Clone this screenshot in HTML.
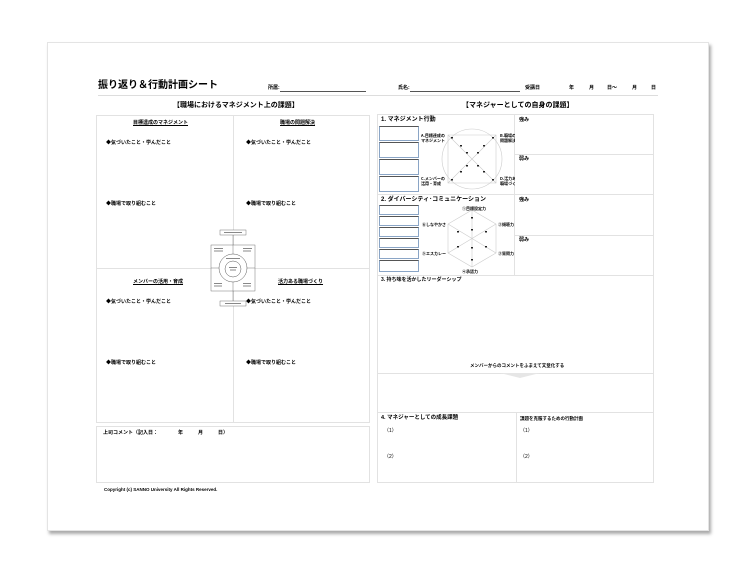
<!DOCTYPE html>
<html><head><meta charset="utf-8"><style>
*{margin:0;padding:0;box-sizing:border-box}
body{width:748px;height:574px;background:#fff;position:relative;overflow:hidden;font-family:"Liberation Sans","Noto Sans CJK JP",sans-serif;color:#000}
.page{position:absolute;left:47px;top:42px;width:662px;height:489px;background:#fff;border:1px solid #e4e4e4;box-shadow:2px 3px 3px #aaa}
.t{position:absolute;white-space:nowrap;font-size:5px;line-height:1;font-weight:bold}
.ul{text-decoration:underline}
.box{position:absolute;border:1px solid #e2e2e2}
.hl{position:absolute;height:1px;background:#e2e2e2}
.vl{position:absolute;width:1px;background:#e2e2e2}
.lb{position:absolute;left:379px;width:40px;height:18px;border:1px solid #8aa5c6;border-top:1px solid #555}
</style></head><body>
<div class="page"></div>
<div class="t" style="left:98px;top:81px;font-size:10px">振り返り＆行動計画シート</div>
<div class="hl" style="left:98px;top:95px;width:560px;background:#ddd"></div>
<div class="t" style="left:268px;top:86px">所属:</div>
<div class="hl" style="left:280px;top:91px;width:86px;background:#555"></div>
<div class="t" style="left:398px;top:86px">氏名:</div>
<div class="hl" style="left:410px;top:91px;width:110px;background:#555"></div>
<div class="t" style="left:525px;top:86px">受講日</div>
<div class="t" style="left:569px;top:86px">年</div>
<div class="t" style="left:589px;top:86px">月</div>
<div class="t" style="left:607px;top:86px">日～</div>
<div class="t" style="left:632px;top:86px">月</div>
<div class="t" style="left:651px;top:86px">日</div>

<div class="t" style="left:173px;top:102px;font-size:7px">【職場におけるマネジメント上の課題】</div>
<div class="box" style="left:96px;top:115px;width:274px;height:308px"></div>
<div class="vl" style="left:233px;top:115px;height:308px"></div>
<div class="hl" style="left:96px;top:268px;width:274px"></div>
<div class="t ul" style="left:133px;top:121px">目標達成のマネジメント</div>
<div class="t ul" style="left:280px;top:121px">職場の問題解決</div>
<div class="t ul" style="left:133px;top:280px">メンバーの活用・育成</div>
<div class="t ul" style="left:278px;top:280px">活力ある職場づくり</div>
<div class="t" style="left:106px;top:141px">◆気づいたこと・学んだこと</div>
<div class="t" style="left:246px;top:141px">◆気づいたこと・学んだこと</div>
<div class="t" style="left:106px;top:202px">◆職場で取り組むこと</div>
<div class="t" style="left:246px;top:202px">◆職場で取り組むこと</div>
<div class="t" style="left:106px;top:300px">◆気づいたこと・学んだこと</div>
<div class="t" style="left:246px;top:300px">◆気づいたこと・学んだこと</div>
<div class="t" style="left:106px;top:361px">◆職場で取り組むこと</div>
<div class="t" style="left:246px;top:361px">◆職場で取り組むこと</div>
<svg style="position:absolute;left:205px;top:228px" width="56" height="80" viewBox="0 0 56 80">
<rect x="15" y="2" width="26" height="5" fill="#fff" stroke="#555" stroke-width=".4"/>
<rect x="15" y="73" width="26" height="5" fill="#fff" stroke="#555" stroke-width=".4"/>
<line x1="28" y1="7" x2="28" y2="17" stroke="#555" stroke-width=".4"/>
<line x1="28" y1="63" x2="28" y2="73" stroke="#555" stroke-width=".4"/>
<rect x="6" y="17" width="44" height="46" fill="#fff" stroke="#555" stroke-width=".4"/>
<line x1="6" y1="40" x2="50" y2="40" stroke="#555" stroke-width=".4"/>
<line x1="28" y1="17" x2="28" y2="63" stroke="#555" stroke-width=".4"/>
<circle cx="28" cy="40" r="14" fill="#fff" stroke="#555" stroke-width=".5"/>
<circle cx="28" cy="41" r="8" fill="#fff" stroke="#555" stroke-width=".5"/>
<g fill="#888"><rect x="9" y="20" width="9" height="1"/><rect x="9" y="22.5" width="9" height="1"/><rect x="38" y="20" width="9" height="1"/><rect x="38" y="22.5" width="8" height="1"/>
<rect x="9" y="55" width="8" height="1"/><rect x="9" y="57.5" width="8" height="1"/><rect x="38" y="55" width="8" height="1"/><rect x="38" y="57.5" width="8" height="1"/>
<rect x="21" y="30" width="14" height="1"/><rect x="24" y="39" width="8" height="1"/><rect x="25" y="41.5" width="6" height="1"/>
<rect x="19" y="4" width="18" height="1"/><rect x="20" y="75" width="16" height="1"/></g>
</svg>

<div class="box" style="left:96px;top:426px;width:274px;height:57px"></div>
<div class="t" style="left:103px;top:431px">上司コメント（記入日：　　　　年　　　月　　　日）</div>
<div class="t" style="left:104px;top:488px;font-size:4.5px">Copyright (c) SANNO University All Rights Reserved.</div>

<div class="t" style="left:462px;top:102px;font-size:7px">【マネジャーとしての自身の課題】</div>
<div class="box" style="left:377px;top:114px;width:277px;height:369px"></div>
<div class="vl" style="left:514px;top:114px;height:161px"></div>
<div class="hl" style="left:377px;top:194px;width:277px"></div>
<div class="hl" style="left:377px;top:275px;width:277px"></div>
<div class="hl" style="left:514px;top:154px;width:140px"></div>
<div class="hl" style="left:514px;top:235px;width:140px"></div>
<div class="hl" style="left:377px;top:373px;width:277px"></div>
<div class="hl" style="left:377px;top:412px;width:277px"></div>
<div class="vl" style="left:516px;top:412px;height:71px"></div>
<div class="t" style="left:381px;top:117px;font-size:6px">1. マネジメント行動</div>
<div class="t" style="left:519px;top:118px">強み</div>
<div class="t" style="left:519px;top:157px">弱み</div>
<div class="t" style="left:519px;top:198px">強み</div>
<div class="t" style="left:519px;top:238px">弱み</div>
<div class="lb" style="top:126px;height:15px"></div><div class="lb" style="top:142px;height:16px"></div>
<div class="lb" style="top:159px;height:16px"></div><div class="lb" style="top:176px;height:16px"></div>
<svg style="position:absolute;left:420px;top:125px" width="95" height="68" viewBox="0 0 95 68">
<circle cx="52" cy="34" r="30" fill="none" stroke="#ccc" stroke-width=".6"/>
<polygon points="28,10 76,10 76,58 28,58" fill="none" stroke="#ccc" stroke-width=".6"/>
<line x1="28" y1="10" x2="76" y2="58" stroke="#ccc" stroke-width=".6"/><line x1="76" y1="10" x2="28" y2="58" stroke="#ccc" stroke-width=".6"/>
<g fill="#222"><rect x="31" y="12" width="2" height="1.5"/><rect x="72" y="12" width="2" height="1.5"/><rect x="31" y="54" width="2" height="1.5"/><rect x="72" y="54" width="2" height="1.5"/>
<rect x="40" y="20" width="2" height="1.5"/><rect x="63" y="20" width="2" height="1.5"/><rect x="40" y="46" width="2" height="1.5"/><rect x="63" y="46" width="2" height="1.5"/>
<rect x="46" y="27" width="2" height="1.5"/><rect x="57" y="27" width="2" height="1.5"/><rect x="46" y="40" width="2" height="1.5"/><rect x="57" y="40" width="2" height="1.5"/></g>
<g font-size="4" font-weight="bold" font-family="Noto Sans CJK JP">
<text x="1" y="12">A.目標達成の</text><text x="1" y="17">マネジメント</text>
<text x="1" y="55">C.メンバーの</text><text x="1" y="60">活用・育成</text>
<text x="80" y="12">B.職場の</text><text x="80" y="17">問題解決</text>
<text x="80" y="55">D.活力ある</text><text x="80" y="60">職場づくり</text></g>
</svg>
<div class="t" style="left:381px;top:197px;font-size:6px">2. ダイバーシティ･コミュニケーション</div>
<div class="lb" style="top:205px;height:10px"></div><div class="lb" style="top:216px;height:10px"></div>
<div class="lb" style="top:227px;height:10px"></div><div class="lb" style="top:238px;height:10px"></div>
<div class="lb" style="top:249px;height:10px"></div><div class="lb" style="top:260px;height:12px"></div>
<svg style="position:absolute;left:420px;top:203px" width="95" height="72" viewBox="0 0 95 72">
<polygon points="52,7 76,21 76,50 52,64 28,50 28,21" fill="none" stroke="#ccc" stroke-width=".6"/>
<line x1="52" y1="7" x2="52" y2="64" stroke="#ccc" stroke-width=".6"/><line x1="28" y1="21" x2="76" y2="50" stroke="#ccc" stroke-width=".6"/><line x1="76" y1="21" x2="28" y2="50" stroke="#ccc" stroke-width=".6"/>
<g fill="#222"><rect x="51" y="14" width="2" height="1.5"/><rect x="51" y="26" width="2" height="1.5"/><rect x="51" y="44" width="2" height="1.5"/><rect x="51" y="56" width="2" height="1.5"/>
<rect x="37" y="28" width="2" height="1.5"/><rect x="65" y="28" width="2" height="1.5"/><rect x="37" y="43" width="2" height="1.5"/><rect x="65" y="43" width="2" height="1.5"/></g>
<g font-size="4" font-weight="bold" font-family="Noto Sans CJK JP">
<text x="42" y="7">①目標設定力</text>
<text x="78" y="23">②傾聴力</text>
<text x="78" y="52">③質問力</text>
<text x="42" y="70">④承認力</text>
<text x="2" y="52">⑤エスカレー</text>
<text x="2" y="23">⑥しなやかさ</text></g>
</svg>
<div class="t" style="left:381px;top:278px">3. 持ち味を活かしたリーダーシップ</div>
<div class="t" style="left:470px;top:364px;font-size:4.5px">メンバーからのコメントをふまえて文章化する</div>
<svg style="position:absolute;left:500px;top:373px" width="40" height="6"><polygon points="0,0 40,0 20,5" fill="#e6e6e6"/></svg>
<div class="t" style="left:381px;top:416px;font-size:5.5px">4. マネジャーとしての成長課題</div>
<div class="t" style="left:520px;top:417px;font-size:4.5px">課題を克服するための行動計画</div>
<div class="t" style="left:384px;top:429px;font-weight:normal">（1）</div>
<div class="t" style="left:520px;top:429px;font-weight:normal">（1）</div>
<div class="t" style="left:384px;top:455px;font-weight:normal">（2）</div>
<div class="t" style="left:520px;top:455px;font-weight:normal">（2）</div>
</body></html>
